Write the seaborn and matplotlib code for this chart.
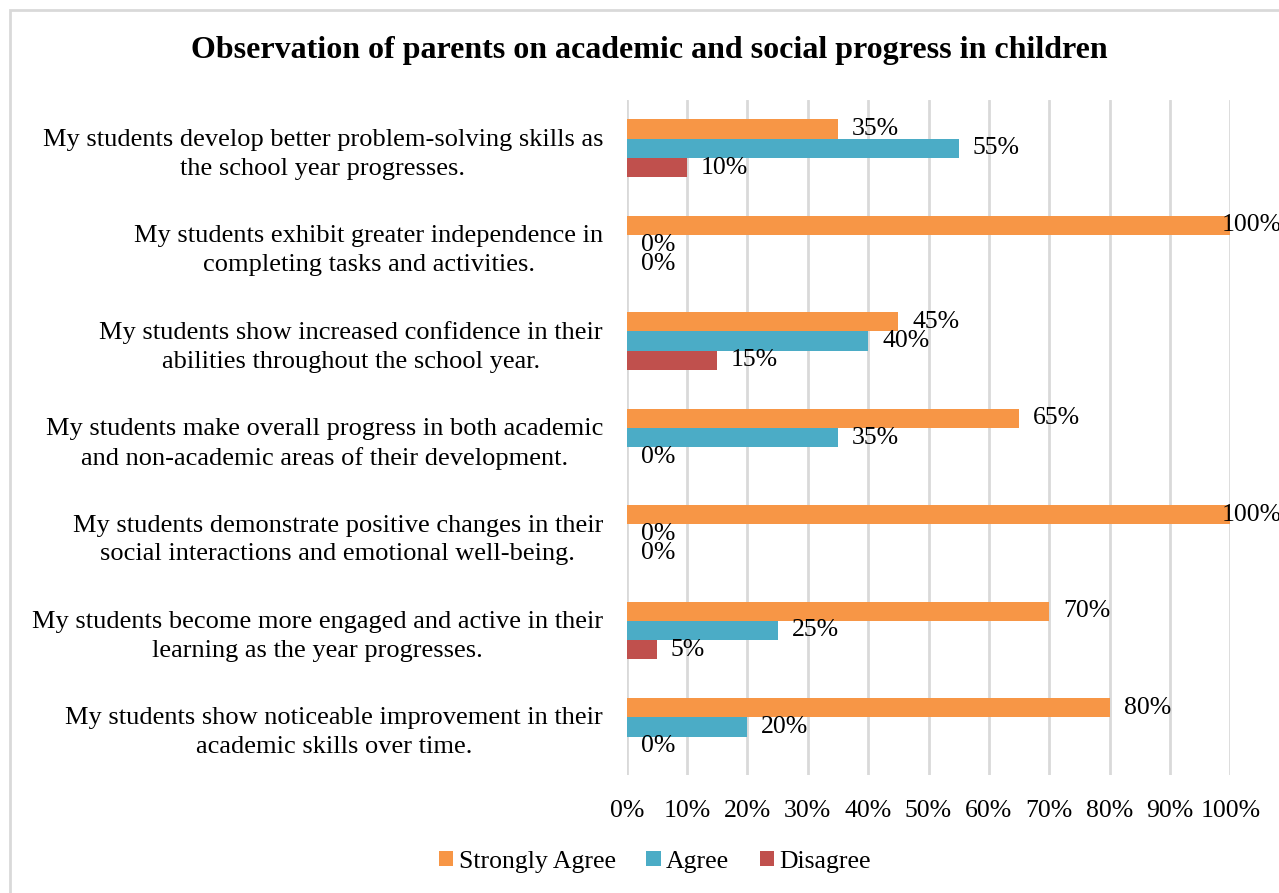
import matplotlib
matplotlib.use("Agg")
import matplotlib.pyplot as plt
import seaborn as sns
import pandas as pd
from matplotlib.patches import Rectangle

categories = [
    "My students develop better problem-solving skills as\nthe school year progresses.",
    "My students exhibit greater independence in\ncompleting tasks and activities.",
    "My students show increased confidence in their\nabilities throughout the school year.",
    "My students make overall progress in both academic\nand non-academic areas of their development.",
    "My students demonstrate positive changes in their\nsocial interactions and emotional well-being.",
    "My students become more engaged and active in their\nlearning as the year progresses.",
    "My students show noticeable improvement in their\nacademic skills over time.",
]
strongly_agree = [35, 100, 45, 65, 100, 70, 80]
agree = [55, 0, 40, 35, 0, 25, 20]
disagree = [10, 0, 15, 0, 0, 5, 0]
series_names = ["Strongly Agree", "Agree", "Disagree"]
colors = ["#F79646", "#4BACC6", "#C0504D"]
x_ticks = list(range(0, 101, 10))

rows = []
for name, vals in zip(series_names, [strongly_agree, agree, disagree]):
    for c, v in zip(categories, vals):
        rows.append({"category": c, "series": name, "value": v})
df = pd.DataFrame(rows)

sns.set_theme(style="white")
plt.rcParams["font.family"] = ["Liberation Serif", "DejaVu Serif"]
plt.rcParams["text.color"] = "black"
plt.rcParams["xtick.color"] = "black"
plt.rcParams["ytick.color"] = "black"

FS = 18.5

fig = plt.figure(figsize=(12.79, 8.93), dpi=100)
ax = fig.add_axes([0.490, 0.132, 0.472, 0.756])

sns.barplot(data=df, y="category", x="value", hue="series", order=categories,
            hue_order=series_names, palette=colors, orient="h", width=0.6,
            linewidth=0, ax=ax, legend=True, saturation=1)

ax.set_xlim(0, 100)
ax.set_ylim(len(categories) - 0.5, -0.5)
ax.set_xticks(x_ticks)
ax.set_xticklabels([f"{t}%" for t in x_ticks], fontsize=FS)
ax.tick_params(axis="x", length=0, pad=18)
ax.tick_params(axis="y", length=0, pad=17, labelsize=19)
for lab in ax.get_yticklabels():
    lab.set_multialignment("center")
    lab.set_linespacing(1.4)
    lab.set_color("black")
ax.set_xlabel("")
ax.set_ylabel("")
ax.grid(axis="x", color="#D9D9D9", linewidth=2)
ax.set_axisbelow(True)
for s in ax.spines.values():
    s.set_visible(False)

for cont in ax.containers:
    for bar in cont:
        w = bar.get_width()
        yc = bar.get_y() + bar.get_height() / 2
        off = 10 if w < 100 else -6
        ax.annotate(f"{w:.0f}%", (w, yc), xytext=(off, 0), textcoords="offset points",
                    ha="left", va="center", fontsize=FS, color="black",
                    annotation_clip=False)

leg = ax.get_legend()
handles, labels = ax.get_legend_handles_labels()
leg.remove()
fig.legend(handles, labels, loc="center", bbox_to_anchor=(0.512, 0.035), ncol=3,
           frameon=False, fontsize=FS, handlelength=0.55, handleheight=0.55,
           handletextpad=0.2, columnspacing=1.2)

fig.text(0.508, 0.943, "Observation of parents on academic and social progress in children",
         ha="center", va="center", fontsize=23, fontweight="bold", color="black")

fig.patches.append(Rectangle((10 / 1279, -0.05), 1.2, 1 - 10 / 893 + 0.05,
                             transform=fig.transFigure, fill=False,
                             edgecolor="#D9D9D9", linewidth=2))

fig.savefig("out.png", dpi=100)
